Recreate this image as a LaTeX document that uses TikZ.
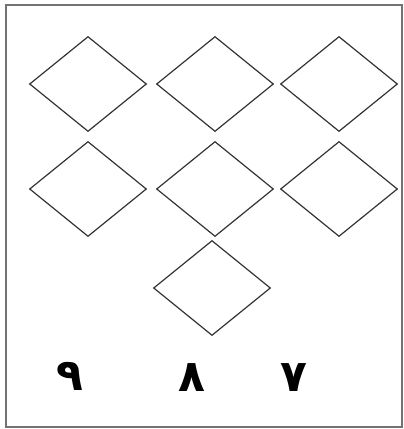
\documentclass[tikz,border=0pt]{standalone}
\usepackage{fontspec}
\newfontfamily\arabicfont[Script=Arabic]{DejaVu Sans}
\TeXXeTstate=1
\usetikzlibrary{shapes.geometric}

\begin{document}
\begin{tikzpicture}[
        x=1pt, y=-1pt,
        tile/.style={diamond, draw=black!80, line width=1.2pt, minimum width=117pt, minimum height=95pt, inner sep=0pt},
        frame/.style={draw=black!55, line width=2pt},
        digit/.style={font=\arabicfont\bfseries\fontsize{44}{48}\selectfont, inner sep=0pt}
    ]
        \useasboundingbox (0,0) rectangle (404,429);

        % Outer frame
        \node[frame, minimum width=396pt, minimum height=422pt, inner sep=0pt] (box) at (204,216) {};

        % Top row
        \node[tile] (a1) at (88, 84) {};
        \node[tile] (a2) at (215, 84) {};
        \node[tile] (a3) at (339, 84) {};

        % Middle row
        \node[tile] (b1) at (88, 189) {};
        \node[tile] (b2) at (215, 189) {};
        \node[tile] (b3) at (339, 189) {};

        % Bottom tile
        \node[tile] (c2) at (212, 288) {};

        % Digits
        \node[digit] (n9) at (70, 376) {\beginR ٩\endR};
        \node[digit] (n8) at (192, 378) {\beginR ٨\endR};
        \node[digit] (n7) at (294, 378) {\beginR ٧\endR};

    \end{tikzpicture}
\end{document}
